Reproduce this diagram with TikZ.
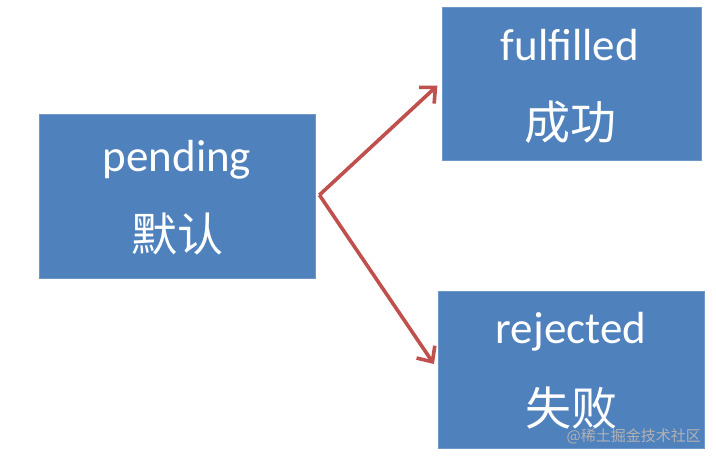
\documentclass[tikz,border=0pt]{standalone}
\usepackage{fontspec}
\setmainfont{Carlito}
\newfontfamily\cjk{Noto Sans CJK SC}
\usetikzlibrary{arrows.meta,calc}
\definecolor{boxblue}{HTML}{4F81BD}
\definecolor{boxedge}{HTML}{6F97C8}
\definecolor{arrred}{HTML}{C0504D}
\begin{document}
\begin{tikzpicture}[x=1pt,y=-1pt,
  statebox/.style={draw=boxedge,line width=0.8pt,fill=boxblue,inner sep=0pt},
  entxt/.style={text=white,font=\fontsize{45}{45}\selectfont,inner sep=0pt},
  zhtxt/.style={text=white,font=\cjk\fontsize{46}{46}\selectfont,inner sep=0pt},
  arr/.style={draw=arrred,line width=3.6pt,line join=round,shorten >=3pt,-{Straight Barb[length=12pt,width=22pt,line width=3.6pt]}}]
\fill[white] (0,0) rectangle (716,460);
\useasboundingbox (0,0) rectangle (716,460);
% boxes
\node[statebox,minimum width=276pt,minimum height=164pt] (pend) at (177,196) {};
\node[statebox,minimum width=259pt,minimum height=153pt] (ful) at (571.5,83.5) {};
\node[statebox,minimum width=266pt,minimum height=157pt] (rej) at (571,369.5) {};
% texts
\node[entxt] (t1) at (177,160) {pending};
\node[zhtxt] (t2) at (177,234) {默认};
\node[entxt] (t3) at (570,45) {fulfilled};
\node[zhtxt] (t4) at (570,122) {成功};
\node[entxt] (t5) at (571,332) {rejected};
\node[zhtxt] (t6) at (571,408) {失败};
% arrows
\coordinate (start) at ($(pend.east)+(4,-1)$);
\draw[arr] (start) -- ($(ful.west)+(-2,0)$);
\draw[arr] (start) -- ($(rej.west)+(-2,-3)$);
% watermark
\node[anchor=east,text=gray!60,font=\cjk\fontsize{15}{15}\selectfont,inner sep=0pt] (wm) at (701,436) {@稀土掘金技术社区};
\end{tikzpicture}
\end{document}
